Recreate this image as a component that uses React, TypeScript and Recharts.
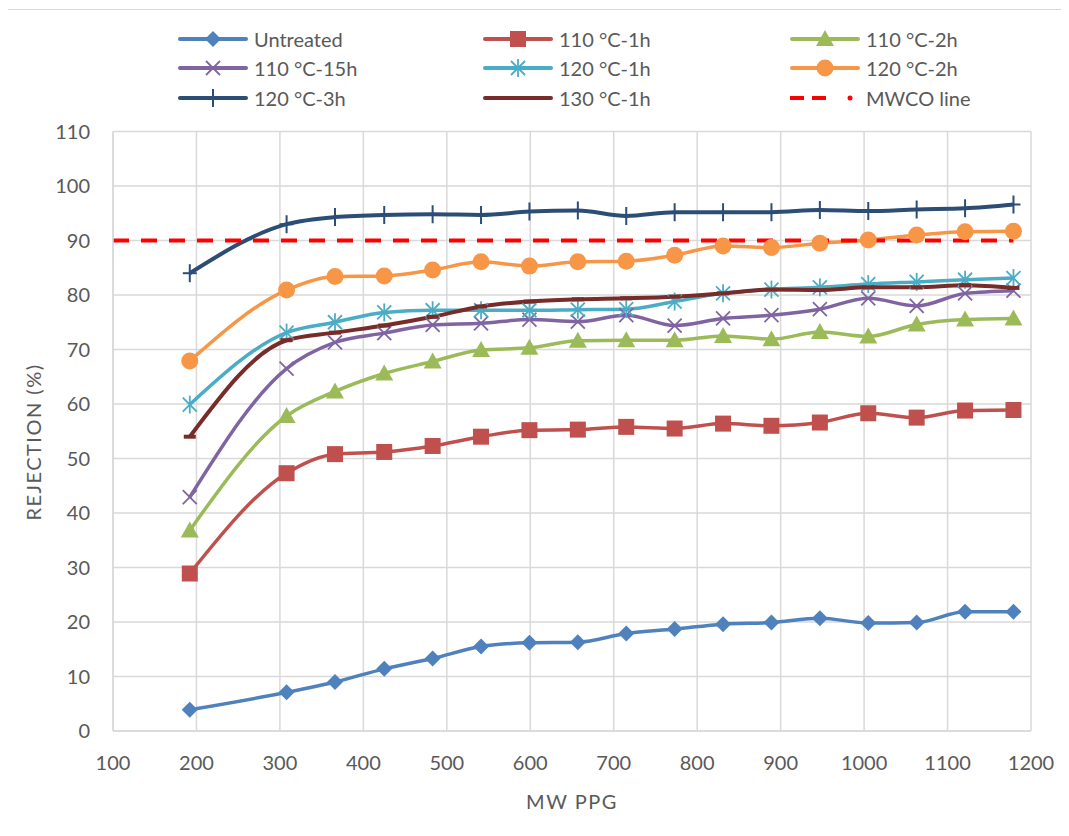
import React from 'react';
import { LineChart, Line, XAxis, YAxis, CartesianGrid, Label } from 'recharts';

// molecular weight of the PPG standards
const MW = [192, 308, 366, 425, 483, 541, 599, 657, 715, 773, 831, 889, 947, 1005, 1063, 1121, 1179];

const UNTREATED = [3.9, 7.1, 9.0, 11.4, 13.3, 15.5, 16.2, 16.3, 17.9, 18.7, 19.6, 19.9, 20.7, 19.8, 19.9, 21.9, 21.9];
const T110_1H = [28.9, 47.3, 50.8, 51.2, 52.3, 54.0, 55.2, 55.3, 55.8, 55.5, 56.4, 56.0, 56.6, 58.3, 57.5, 58.8, 58.9];
const T110_2H = [36.8, 57.8, 62.3, 65.6, 67.8, 69.9, 70.3, 71.6, 71.7, 71.7, 72.5, 71.9, 73.2, 72.4, 74.6, 75.5, 75.7];
const T110_15H = [42.9, 66.5, 71.3, 73.0, 74.5, 74.8, 75.5, 75.1, 76.3, 74.4, 75.7, 76.3, 77.4, 79.4, 78.0, 80.3, 80.8];
const T120_1H = [59.9, 73.1, 75.0, 76.8, 77.2, 77.2, 77.2, 77.3, 77.4, 78.8, 80.3, 81.0, 81.4, 82.0, 82.4, 82.8, 83.1];
const T120_2H = [67.9, 80.9, 83.4, 83.5, 84.6, 86.1, 85.3, 86.1, 86.2, 87.3, 89.0, 88.7, 89.5, 90.1, 91.0, 91.6, 91.7];
const T120_3H = [84.0, 93.0, 94.3, 94.7, 94.8, 94.7, 95.3, 95.5, 94.5, 95.2, 95.2, 95.2, 95.6, 95.4, 95.7, 95.9, 96.6];
const T130_1H = [54.0, 71.7, 73.1, 74.4, 76.0, 77.9, 78.8, 79.2, 79.4, 79.7, 80.3, 81.0, 80.9, 81.4, 81.4, 81.8, 81.3];

const MWCO_X = [100, 1179];
const MWCO_Y = [90, 90];

const X_TICKS = [100, 200, 300, 400, 500, 600, 700, 800, 900, 1000, 1100, 1200];
const Y_TICKS = [0, 10, 20, 30, 40, 50, 60, 70, 80, 90, 100, 110];

const SERIES = [
  { key: 'untreated', name: 'Untreated', values: UNTREATED, color: '#4F81BD', shape: 'diamond' },
  { key: 't110_1', name: '110 °C-1h', values: T110_1H, color: '#C0504D', shape: 'square' },
  { key: 't110_2', name: '110 °C-2h', values: T110_2H, color: '#9BBB59', shape: 'triangle' },
  { key: 't110_15', name: '110 °C-15h', values: T110_15H, color: '#8064A2', shape: 'x' },
  { key: 't120_1', name: '120 °C-1h', values: T120_1H, color: '#4BACC6', shape: 'star' },
  { key: 't120_2', name: '120 °C-2h', values: T120_2H, color: '#F79646', shape: 'circle' },
  { key: 't120_3', name: '120 °C-3h', values: T120_3H, color: '#2C4D75', shape: 'plus' },
  { key: 't130_1', name: '130 °C-1h', values: T130_1H, color: '#772C2A', shape: 'dash' },
];

const data = MW.map((mw, i) => {
  const row: any = { mw };
  SERIES.forEach((s) => (row[s.key] = s.values[i]));
  return row;
});

const mwcoData = MWCO_X.map((mw, i) => ({ mw, v: MWCO_Y[i] }));

const TEXT = '#595959';
const GRID = '#D9D9D9';
const FONT = 'Lato, "Open Sans", sans-serif';

function Marker({ shape, color, x, y }: any) {
  switch (shape) {
    case 'diamond':
      return <polygon points={`${x},${y - 8} ${x + 8},${y} ${x},${y + 8} ${x - 8},${y}`} fill={color} />;
    case 'square':
      return <rect x={x - 8} y={y - 8} width={16} height={16} fill={color} />;
    case 'triangle':
      return <polygon points={`${x},${y - 9} ${x + 9},${y + 7} ${x - 9},${y + 7}`} fill={color} />;
    case 'x':
      return (
        <g stroke={color} strokeWidth={1.8}>
          <line x1={x - 7} y1={y - 7} x2={x + 7} y2={y + 7} />
          <line x1={x - 7} y1={y + 7} x2={x + 7} y2={y - 7} />
        </g>
      );
    case 'star':
      return (
        <g stroke={color} strokeWidth={1.8}>
          <line x1={x - 7} y1={y - 7} x2={x + 7} y2={y + 7} />
          <line x1={x - 7} y1={y + 7} x2={x + 7} y2={y - 7} />
          <line x1={x} y1={y - 9} x2={x} y2={y + 9} />
        </g>
      );
    case 'circle':
      return <circle cx={x} cy={y} r={8.5} fill={color} />;
    case 'plus':
      return (
        <g stroke={color} strokeWidth={2}>
          <line x1={x} y1={y - 9} x2={x} y2={y + 9} />
          <line x1={x - 7} y1={y} x2={x + 7} y2={y} />
        </g>
      );
    case 'dash':
      return <line x1={x - 6} y1={y} x2={x + 6} y2={y} stroke={color} strokeWidth={4} />;
    default:
      return null;
  }
}

const dotFor = (shape: string, color: string) => (props: any) => {
  const { cx, cy, index } = props;
  if (cx == null || cy == null) return <g key={`e-${index}`} />;
  return (
    <g key={`m-${index}`}>
      <Marker shape={shape} color={color} x={cx} y={cy} />
    </g>
  );
};

const LEGEND_COLS = [170, 475, 782];
const LEGEND_ROWS = [31, 60, 90];

function LegendBox() {
  const items = [
    ...SERIES.map((s) => ({ name: s.name, color: s.color, shape: s.shape, dashed: false })),
    { name: 'MWCO line', color: '#FF0000', shape: 'none', dashed: true },
  ];
  return (
    <>
      {items.map((it, i) => (
        <div
          key={it.name}
          style={{
            position: 'absolute',
            left: LEGEND_COLS[i % 3],
            top: LEGEND_ROWS[Math.floor(i / 3)] - 12,
            height: 24,
            display: 'flex',
            alignItems: 'center',
            whiteSpace: 'nowrap',
          }}
        >
          <svg width={76} height={24}>
            {it.dashed ? (
              <g>
                <line x1={0} y1={12} x2={44} y2={12} stroke={it.color} strokeWidth={4} strokeDasharray="14 8" />
                <circle cx={60} cy={12} r={2.5} fill={it.color} />
              </g>
            ) : (
              <g>
                <line x1={2} y1={12} x2={68} y2={12} stroke={it.color} strokeWidth={4} strokeLinecap="round" />
                <Marker shape={it.shape} color={it.color} x={35} y={12} />
              </g>
            )}
          </svg>
          <span style={{ fontSize: 20, color: TEXT, fontFamily: FONT }}>{it.name}</span>
        </div>
      ))}
    </>
  );
}

export default function App() {
  return (
    <div style={{ position: 'relative', width: 1061, height: 828, fontFamily: FONT, overflow: 'visible' }}>
      <div
        style={{
          position: 'absolute',
          left: -1,
          top: 1,
          width: 1080,
          height: 840,
          borderTop: `1.5px solid ${GRID}`,
          borderLeft: `1.5px solid ${GRID}`,
        }}
      />
      <LegendBox />
      <div style={{ position: 'absolute', left: 0, top: 0 }}>
        <LineChart width={1061} height={820} data={data} margin={{ top: 123.5, right: 38, bottom: 17, left: 20 }}>
          <CartesianGrid stroke={GRID} strokeWidth={1.5} />
          <XAxis
            dataKey="mw"
            type="number"
            domain={[100, 1200]}
            ticks={X_TICKS}
            interval={0}
            height={80}
            tickLine={false}
            tickMargin={19}
            axisLine={{ stroke: GRID, strokeWidth: 1.5 }}
            tick={{ fill: TEXT, fontSize: 20, fontFamily: FONT }}
            allowDataOverflow
          >
            <Label
              value="MW PPG"
              position="insideBottom"
              offset={2}
              fill={TEXT}
              fontSize={20}
              fontFamily={FONT}
              letterSpacing={1.5}
            />
          </XAxis>
          <YAxis
            type="number"
            domain={[0, 110]}
            ticks={Y_TICKS}
            interval={0}
            width={85}
            tickLine={false}
            tickMargin={17}
            axisLine={{ stroke: GRID, strokeWidth: 1.5 }}
            tick={{ fill: TEXT, fontSize: 20, fontFamily: FONT }}
            allowDataOverflow
          >
            <Label
              content={() => (
                <text
                  x={25}
                  y={434}
                  transform="rotate(-90, 25, 434)"
                  textAnchor="middle"
                  dominantBaseline="central"
                  fill={TEXT}
                  fontSize={20}
                  letterSpacing={1.5}
                  fontFamily={FONT}
                >
                  REJECTION (%)
                </text>
              )}
            />
          </YAxis>
          {SERIES.map((s) => (
            <Line
              key={s.key}
              type="monotone"
              dataKey={s.key}
              name={s.name}
              stroke={s.color}
              strokeWidth={s.key === 't130_1' || s.key === 't120_3' ? 4 : 3.5}
              dot={dotFor(s.shape, s.color)}
              activeDot={false}
              isAnimationActive={false}
            />
          ))}
          <Line
            data={mwcoData}
            type="linear"
            dataKey="v"
            name="MWCO line"
            stroke="#FF0000"
            strokeWidth={4}
            strokeDasharray="16 12"
            dot={false}
            activeDot={false}
            isAnimationActive={false}
          />
        </LineChart>
      </div>
    </div>
  );
}
